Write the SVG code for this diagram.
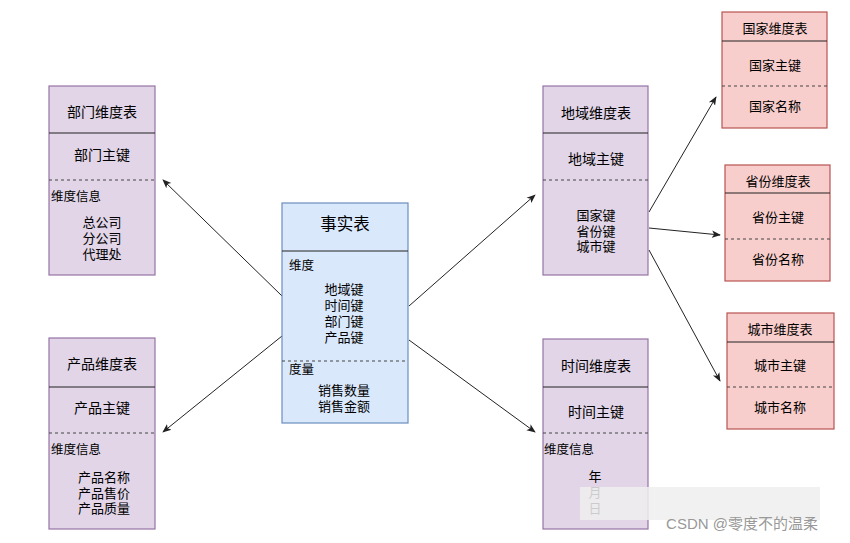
<svg xmlns="http://www.w3.org/2000/svg" width="850" height="543" viewBox="0 0 850 543">
<style>
text{font-family:"Liberation Sans","Noto Sans CJK SC",sans-serif;font-size:13px;fill:#000;text-anchor:middle;dominant-baseline:central}
.h{font-size:14px}
.l{text-anchor:start;font-size:12.5px}
.big{font-size:16.5px}
.p{fill:#e1d5e7;stroke:#9673a6;stroke-width:1.2}
.b{fill:#dae8fc;stroke:#6c8ebf;stroke-width:1.2}
.r{fill:#f8cecc;stroke:#b85450;stroke-width:1.2}
.hl{stroke:#222;stroke-width:1.2}
.dl{stroke:#444;stroke-width:1;stroke-dasharray:3 3}
.c{stroke:#222;stroke-width:1;fill:none;marker-end:url(#a)}
</style>
<defs>
<marker id="a" viewBox="0 0 10 10" refX="9" refY="5" markerWidth="9" markerHeight="9" orient="auto" markerUnits="userSpaceOnUse"><path d="M0,1 L10,5 L0,9 L2.5,5 Z" fill="#222"/></marker>
</defs>
<rect width="850" height="543" fill="#fff"/>
<g id="connectors">
<line class="c" x1="282" y1="296" x2="163" y2="180"/>
<line class="c" x1="282" y1="336" x2="163" y2="432"/>
<line class="c" x1="409" y1="306" x2="535" y2="195"/>
<line class="c" x1="409" y1="340" x2="535" y2="432"/>
<line class="c" x1="649" y1="212" x2="716" y2="97"/>
<line class="c" x1="649" y1="228" x2="720" y2="235"/>
<line class="c" x1="649" y1="250" x2="720" y2="381"/>
</g>
<g id="dept">
<rect class="p" x="49" y="86" width="106" height="189"/>
<line class="hl" x1="49" y1="133" x2="155" y2="133"/>
<line class="dl" x1="49" y1="180" x2="155" y2="180"/>
<text class="h" x="102" y="112">部门维度表</text>
<text class="h" x="102" y="155">部门主键</text>
<text class="l" x="51" y="197">维度信息</text>
<text x="102" y="222"><tspan x="102">总公司</tspan><tspan x="102" dy="16">分公司</tspan><tspan x="102" dy="16">代理处</tspan></text>
</g>
<g id="product">
<rect class="p" x="49" y="338" width="106" height="191"/>
<line class="hl" x1="49" y1="387" x2="155" y2="387"/>
<line class="dl" x1="49" y1="433" x2="155" y2="433"/>
<text class="h" x="102" y="364">产品维度表</text>
<text class="h" x="102" y="408">产品主键</text>
<text class="l" x="51" y="450">维度信息</text>
<text x="104" y="477"><tspan x="104">产品名称</tspan><tspan x="104" dy="15.5">产品售价</tspan><tspan x="104" dy="15.5">产品质量</tspan></text>
</g>
<g id="fact">
<rect class="b" x="282" y="203" width="126" height="220"/>
<line class="hl" x1="282" y1="251" x2="408" y2="251"/>
<line class="dl" x1="282" y1="361" x2="408" y2="361"/>
<text class="big" x="345" y="224">事实表</text>
<text class="l" x="289" y="266">维度</text>
<text x="344" y="289"><tspan x="344">地域键</tspan><tspan x="344" dy="16">时间键</tspan><tspan x="344" dy="16">部门键</tspan><tspan x="344" dy="16">产品键</tspan></text>
<text class="l" x="289" y="370">度量</text>
<text x="344" y="390"><tspan x="344">销售数量</tspan><tspan x="344" dy="16">销售金额</tspan></text>
</g>
<g id="region">
<rect class="p" x="543" y="86" width="105" height="189"/>
<line class="hl" x1="543" y1="133" x2="648" y2="133"/>
<line class="dl" x1="543" y1="180" x2="648" y2="180"/>
<text class="h" x="596" y="113">地域维度表</text>
<text class="h" x="596" y="159">地域主键</text>
<text x="596" y="215"><tspan x="596">国家键</tspan><tspan x="596" dy="15.5">省份键</tspan><tspan x="596" dy="15.5">城市键</tspan></text>
</g>
<g id="time">
<rect class="p" x="543" y="339" width="105" height="190"/>
<line class="hl" x1="543" y1="387" x2="648" y2="387"/>
<line class="dl" x1="543" y1="433" x2="648" y2="433"/>
<text class="h" x="596" y="366">时间维度表</text>
<text class="h" x="596" y="412">时间主键</text>
<text class="l" x="544" y="450">维度信息</text>
<text x="595" y="476"><tspan x="595">年</tspan><tspan x="595" dy="16">月</tspan><tspan x="595" dy="16">日</tspan></text>
</g>
<g id="country">
<rect class="r" x="722" y="12" width="105" height="116"/>
<line class="hl" x1="722" y1="41" x2="827" y2="41"/>
<line class="dl" x1="722" y1="86" x2="827" y2="86"/>
<text x="775" y="28">国家维度表</text>
<text x="775" y="65">国家主键</text>
<text x="775" y="106">国家名称</text>
</g>
<g id="province">
<rect class="r" x="725" y="165" width="105" height="116"/>
<line class="hl" x1="725" y1="193" x2="830" y2="193"/>
<line class="dl" x1="725" y1="239" x2="830" y2="239"/>
<text x="778" y="181">省份维度表</text>
<text x="778" y="217">省份主键</text>
<text x="778" y="259">省份名称</text>
</g>
<g id="city">
<rect class="r" x="727" y="313" width="107" height="116"/>
<line class="hl" x1="727" y1="342" x2="834" y2="342"/>
<line class="dl" x1="727" y1="387" x2="834" y2="387"/>
<text x="780" y="329">城市维度表</text>
<text x="780" y="365">城市主键</text>
<text x="780" y="407">城市名称</text>
</g>
<g id="watermark">
<rect x="580" y="487" width="240" height="33" fill="#eeeeee" opacity="0.85"/>
<text x="742" y="523" style="fill:#999;font-size:15px">CSDN @零度不的温柔</text>
</g>
</svg>
